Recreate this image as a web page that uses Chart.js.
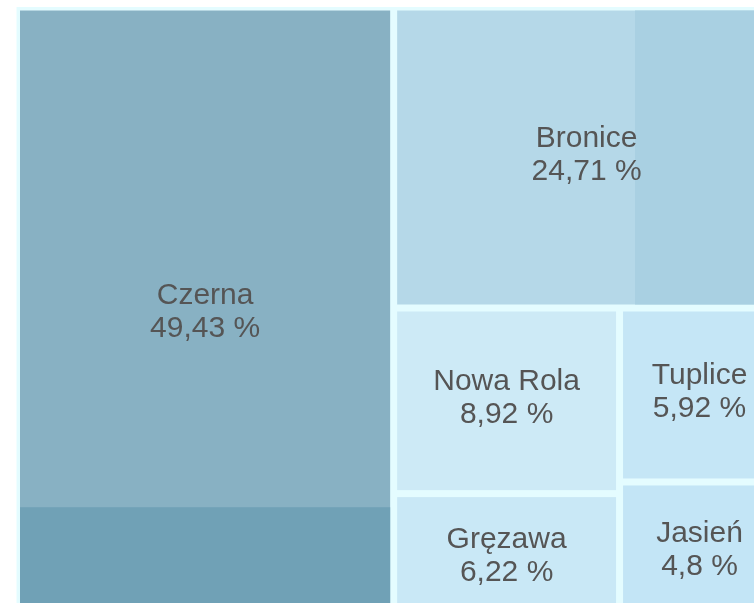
<!DOCTYPE html>
<html>
<head>
<meta charset="utf-8">
<script src="https://cdn.jsdelivr.net/npm/chart.js@4/dist/chart.umd.min.js"></script>
<style>
  html, body { margin: 0; padding: 0; background: #fff; overflow: hidden; }
  #wrap { width: 754px; height: 603px; position: relative; }
</style>
</head>
<body>
<div id="wrap"><canvas id="myChart"></canvas></div>
<script>
document.addEventListener("DOMContentLoaded", function () {
    const names = ['Czerna', 'Bronice', 'Nowa Rola', 'Gręzawa', 'Tuplice', 'Jasień'];
    const shares = [49.43, 24.71, 8.92, 6.22, 5.92, 4.8];
    const colors = ['#88b1c3', '#b5d8e8', '#cdeaf6', '#c9e8f6', '#c5e6f6', '#c3e5f6'];

    // squarified layout in a 124 x 100 box (same unit on both axes)
    function worst(row, side) {
        const s = row.reduce((a, b) => a + b, 0);
        const mx = Math.max(...row), mn = Math.min(...row);
        return Math.max(side * side * mx / (s * s), (s * s) / (side * side * mn));
    }
    function squarify(vals, x, y, w, h) {
        const total = vals.reduce((a, b) => a + b, 0);
        const areas = vals.map(v => v * w * h / total);
        const out = [];
        let i = 0;
        while (i < areas.length) {
            const side = Math.min(w, h);
            const row = [areas[i]];
            let j = i + 1;
            while (j < areas.length && worst(row.concat(areas[j]), side) <= worst(row, side)) {
                row.push(areas[j]);
                j++;
            }
            const s = row.reduce((a, b) => a + b, 0);
            if (w >= h) {
                const cw = s / h;
                let cy = y;
                row.forEach(a => { const ch = a / cw; out.push({x: x, y: cy, w: cw, h: ch}); cy += ch; });
                x += cw; w -= cw;
            } else {
                const rh = s / w;
                let cx = x;
                row.forEach(a => { const rw = a / rh; out.push({x: cx, y: y, w: rw, h: rh}); cx += rw; });
                y += rh; h -= rh;
            }
            i = j;
        }
        return out;
    }

    const cells = squarify(shares, 0, 0, 123.86, 100);

    const treemapPlugin = {
        id: 'treemap',
        beforeDatasetsDraw(chart) {
            const {ctx, chartArea, scales: {x, y}} = chart;
            const px = v => x.getPixelForValue(v);
            const py = v => y.getPixelForValue(v);
            ctx.save();
            ctx.beginPath();
            ctx.rect(chartArea.left, chartArea.top, chartArea.width, chartArea.height);
            ctx.clip();
            // gap colour
            ctx.fillStyle = '#e4fcff';
            ctx.fillRect(px(0), py(0), px(123.86) - px(0), py(100) - py(0));
            const gap = 3.5;
            cells.forEach((c, i) => {
                const x0 = px(c.x) + gap, y0 = py(c.y) + gap;
                const x1 = px(c.x + c.w) - gap, y1 = py(c.y + c.h) - gap;
                ctx.fillStyle = colors[i];
                ctx.fillRect(x0, y0, x1 - x0, y1 - y0);
                // darker tile bands seen in the original picture
                if (i === 0) {
                    ctx.fillStyle = '#70a1b6';
                    const yb = py(81.2);
                    ctx.fillRect(x0, yb, x1 - x0, y1 - yb);
                }
                if (i === 1) {
                    ctx.fillStyle = '#a9d0e2';
                    const xb = px(100.4);
                    ctx.fillRect(xb, y0, x1 - xb, y1 - y0);
                }
            });
            // labels
            ctx.fillStyle = '#555555';
            ctx.font = '30px "Liberation Sans", Arial, sans-serif';
            ctx.textAlign = 'center';
            ctx.textBaseline = 'middle';
            cells.forEach((c, i) => {
                const cx = px(c.x + c.w / 2);
                const cy = py(c.y + c.h / 2) - 3;
                ctx.fillText(names[i], cx, cy - 16);
                ctx.fillText(String(shares[i]).replace('.', ',') + ' %', cx, cy + 17);
            });
            ctx.restore();
        }
    };

    const config = {
        type: 'scatter',
        data: {
            datasets: [{
                label: 'udział',
                data: cells.map(c => ({x: c.x + c.w / 2, y: c.y + c.h / 2})),
                pointRadius: 0,
                pointHoverRadius: 0
            }]
        },
        options: {
            responsive: true,
            maintainAspectRatio: false,
            animation: false,
            layout: { padding: 0 },
            plugins: { legend: { display: false }, tooltip: { enabled: false } },
            scales: {
                x: { type: 'linear', display: false, min: -2.68, max: 119.72 },
                y: { type: 'linear', display: false, reverse: true, min: -1.136, max: 96.75 }
            }
        },
        plugins: [treemapPlugin]
    };
    new Chart(document.getElementById('myChart'), config);
});
</script>
</body>
</html>
